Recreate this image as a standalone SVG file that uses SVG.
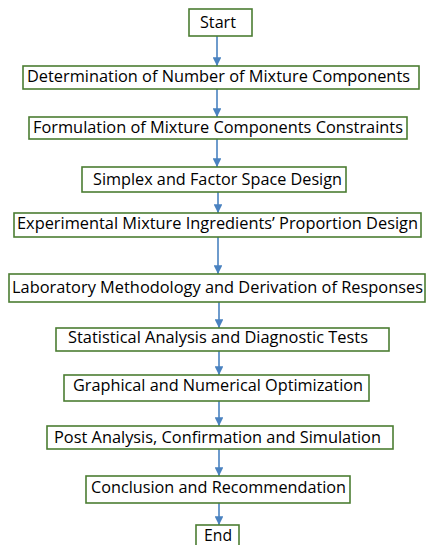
<svg xmlns="http://www.w3.org/2000/svg" width="427" height="545" viewBox="0 0 427 545">
  <style>
    .box { fill: #ffffff; stroke: #4b7d32; stroke-width: 1.6; }
    .lbl { font-family: "Open Sans", "Liberation Sans", sans-serif; font-size: 15.5px; fill: #000000; }
    .link { stroke: #4a82c0; stroke-width: 1.6; fill: none; marker-end: url(#arrow); }
  </style>
  <defs>
    <marker id="arrow" viewBox="0 0 10 10" refX="10" refY="5" markerWidth="5.5" markerHeight="5.5" orient="auto" markerUnits="strokeWidth">
      <path d="M0,0 L10,5 L0,10 z" fill="#4a82c0"/>
    </marker>
  </defs>
  <rect width="427" height="545" fill="#ffffff"/>

  <g id="connectors">
    <line class="link" x1="217" y1="36" x2="217" y2="66"/>
    <line class="link" x1="217" y1="89" x2="217" y2="117"/>
    <line class="link" x1="217" y1="139" x2="217" y2="167"/>
    <line class="link" x1="218" y1="192" x2="218" y2="213"/>
    <line class="link" x1="218" y1="237" x2="218" y2="274"/>
    <line class="link" x1="219" y1="302" x2="219" y2="328"/>
    <line class="link" x1="219" y1="351" x2="219" y2="375"/>
    <line class="link" x1="219" y1="401" x2="219" y2="426"/>
    <line class="link" x1="219" y1="449" x2="219" y2="476"/>
    <line class="link" x1="219" y1="503" x2="219" y2="525"/>
  </g>

  <g id="start">
    <rect class="box" x="189" y="9" width="63" height="27"/>
    <text class="lbl" x="200" y="28" textLength="36" lengthAdjust="spacingAndGlyphs">Start</text>
  </g>
  <g id="determination">
    <rect class="box" x="23" y="66" width="396" height="23"/>
    <text class="lbl" x="27" y="82" textLength="383" lengthAdjust="spacingAndGlyphs">Determination of Number of Mixture Components</text>
  </g>
  <g id="formulation">
    <rect class="box" x="29" y="117" width="378" height="22"/>
    <text class="lbl" x="33" y="133" textLength="370" lengthAdjust="spacingAndGlyphs">Formulation of Mixture Components Constraints</text>
  </g>
  <g id="simplex">
    <rect class="box" x="82" y="167" width="264" height="25"/>
    <text class="lbl" x="93" y="185" textLength="249" lengthAdjust="spacingAndGlyphs">Simplex and Factor Space Design</text>
  </g>
  <g id="experimental">
    <rect class="box" x="14" y="213" width="407" height="24"/>
    <text class="lbl" x="17" y="229" textLength="401" lengthAdjust="spacingAndGlyphs">Experimental Mixture Ingredients’ Proportion Design</text>
  </g>
  <g id="laboratory">
    <rect class="box" x="9" y="274" width="416" height="28"/>
    <text class="lbl" x="12" y="293" textLength="411" lengthAdjust="spacingAndGlyphs">Laboratory Methodology and Derivation of Responses</text>
  </g>
  <g id="statistical">
    <rect class="box" x="56" y="328" width="333" height="23"/>
    <text class="lbl" x="68" y="343" textLength="300" lengthAdjust="spacingAndGlyphs">Statistical Analysis and Diagnostic Tests</text>
  </g>
  <g id="optimization">
    <rect class="box" x="64" y="375" width="305" height="26"/>
    <text class="lbl" x="73" y="391" textLength="290" lengthAdjust="spacingAndGlyphs">Graphical and Numerical Optimization</text>
  </g>
  <g id="post-analysis">
    <rect class="box" x="47" y="426" width="346" height="23"/>
    <text class="lbl" x="54" y="443" textLength="327" lengthAdjust="spacingAndGlyphs">Post Analysis, Confirmation and Simulation</text>
  </g>
  <g id="conclusion">
    <rect class="box" x="86" y="476" width="264" height="27"/>
    <text class="lbl" x="91" y="493" textLength="255" lengthAdjust="spacingAndGlyphs">Conclusion and Recommendation</text>
  </g>
  <g id="end">
    <rect class="box" x="196" y="525" width="43" height="24"/>
    <text class="lbl" x="204" y="541" textLength="28" lengthAdjust="spacingAndGlyphs">End</text>
  </g>
</svg>
